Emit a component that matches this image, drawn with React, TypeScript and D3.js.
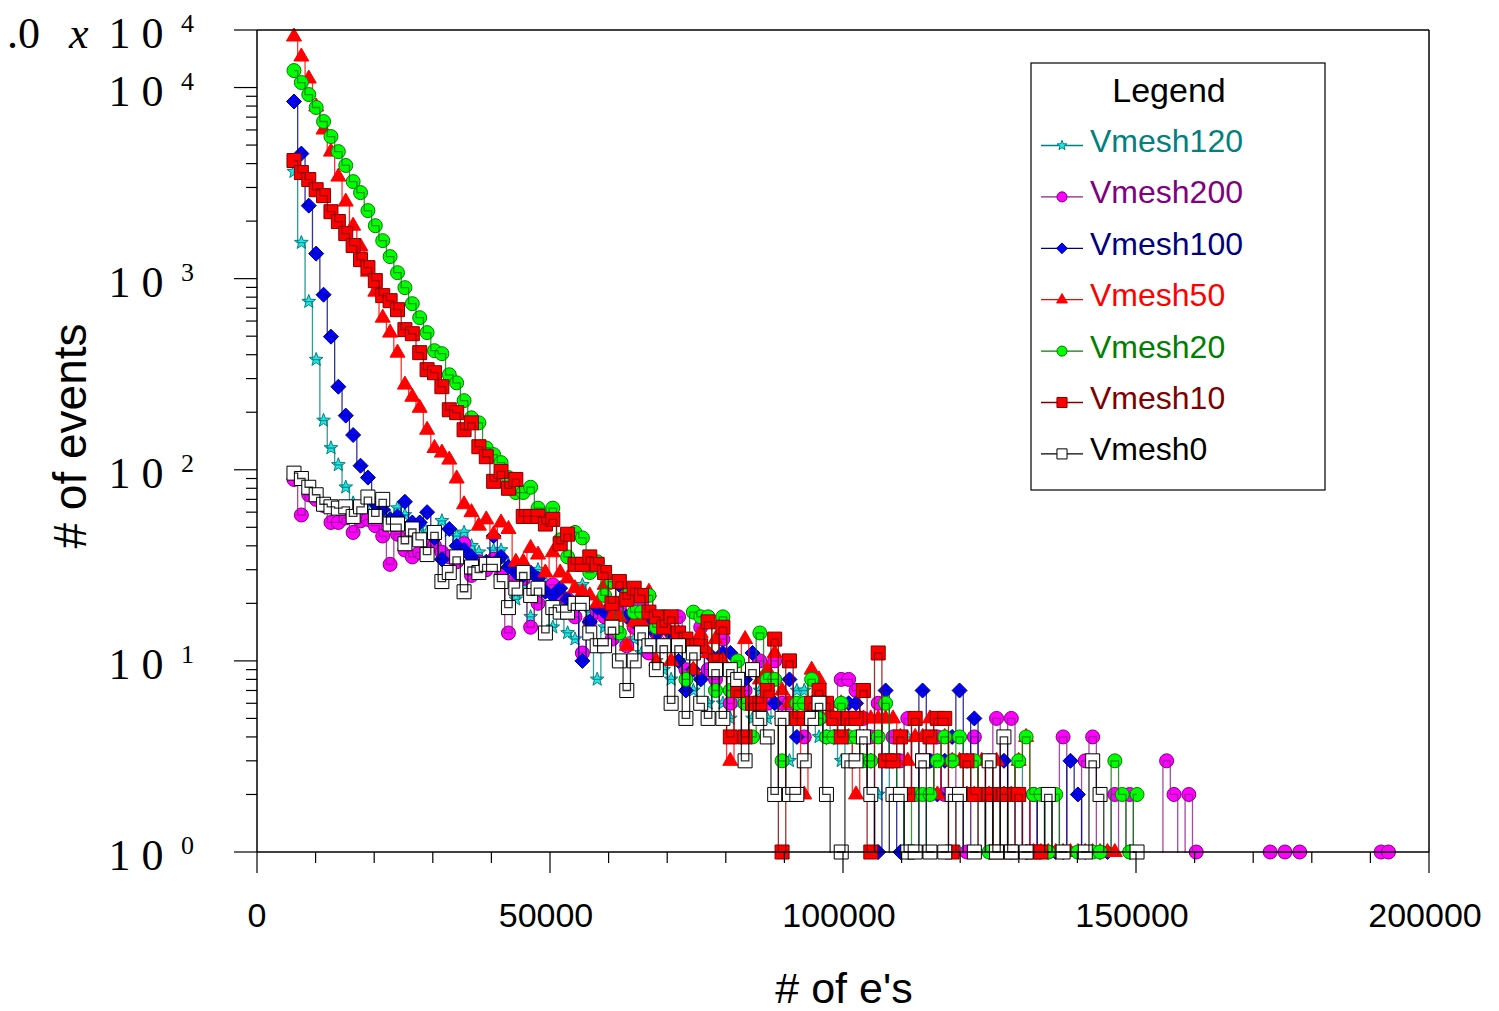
import React from 'react';
import * as d3 from 'd3';

// histogram bins: centre of first bin and bin width (# of e's)
const BIN_START = 6310;
const BIN_WIDTH = 1262;

const vmesh120: number[] = [
  3630, 1543, 758, 377, 181, 130, 106, 81, 67, 62,
  60, 58, 55, 57, 63, 58, 52, 50, 47, 44,
  54, 48, 45, 47, 40, 37, 33, 38, 38, 32,
  21, 25, 17, 30, 26, 15, 20, 14, 13, 25,
  18, 8, 15, 14, 13, 12, 13, 11, 12, 10,
  9, 8, 10, 8, 7, 8, 6, 7, 6, 5,
  6, 7, 5, 7, 5, 6, 5, 3, 7, 7,
  5, 4, 5, 4, 3, 4, 3, 3, 2, 2,
  3, 2, 2, 4, 2, 1, 2, 3, 2, 2,
  1, 2, 1, 2, 1, 3, 1, 2, 3, 1,
  1, 2, 1, 1,
];

const vmesh200: number[] = [
  89, 58, 74, 70, 65, 53, 53, 56, 47, 54,
  55, 51, 45, 32, 46, 38, 35, 37, 40, 40,
  37, 35, 33, 41, 28, 33, 30, 34, 28, 14,
  27, 27, 15, 20, 24, 25, 22, 21, 17, 11,
  16, 18, 17, 13, 19, 12, 15, 20, 11, 14,
  12, 14, 17, 9, 11, 15, 9, 8, 13, 6,
  8, 7, 9, 10, 6, 10, 6, 6, 5, 4,
  6, 5, 6, 5, 8, 8, 7, 5, 4, 6,
  3, 4, 3, 5, 2, 3, 3, 4, 2, 3,
  2, 1, 4, 2, 3, 5, 2, 5, 2, 1,
  2, 1, 2, 0, 4, 0, 0, 3, 4, 0,
  0, 2, 0, 2, 0, 0, 0, 0, 3, 2,
  0, 2, 1, 0, 0, 0, 0, 0, 0, 0,
  0, 0, 1, 0, 1, 0, 1, 0, 0, 0,
  0, 0, 0, 0, 0, 0, 0, 1, 1,
];

const vmesh100: number[] = [
  8450, 4510, 2410, 1352, 824, 497, 272, 192, 152, 105,
  91, 66, 62, 55, 57, 68, 53, 53, 60, 44,
  34, 49, 40, 38, 35, 31, 33, 45, 35, 31,
  29, 28, 29, 27, 23, 22, 24, 21, 20, 10,
  16, 19, 18, 15, 25, 17, 16, 14, 16, 14,
  12, 14, 10, 7, 9, 8, 11, 9, 11, 11,
  7, 8, 11, 6, 7, 6, 5, 8, 4, 5,
  6, 5, 4, 4, 5, 6, 6, 4, 3, 1,
  7, 3, 1, 2, 2, 7, 3, 2, 3, 4,
  7, 3, 5, 2, 1, 2, 3, 1, 2, 1,
  2, 0, 1, 1, 1, 3, 2, 1, 0, 1,
  1, 0, 0, 1,
];

const vmesh50: number[] = [
  18500, 14530, 11150, 7960, 6030, 4620, 3420, 2530, 1893, 1472,
  1088, 855, 625, 522, 410, 279, 241, 211, 162, 130,
  123, 113, 90, 66, 60, 51, 55, 46, 53, 49,
  33, 33, 39, 36, 29, 37, 29, 27, 24, 23,
  22, 20, 25, 17, 17, 12, 16, 16, 23, 10,
  12, 10, 14, 12, 9, 14, 11, 13, 10, 3,
  7, 13, 9, 8, 9, 11, 7, 6, 5, 2,
  9, 8, 5, 5, 6, 4, 2, 5, 5, 5,
  5, 5, 4, 3, 4, 4, 5, 2, 4, 3,
  3, 2, 2, 3, 2, 3, 2, 2, 3, 4,
  1, 1, 1, 1, 1, 1, 1, 1, 1, 1,
  1, 1,
];

const vmesh20: number[] = [
  12270, 10620, 9190, 7860, 6640, 5540, 4620, 3910, 3220, 2820,
  2270, 1893, 1581, 1304, 1075, 897, 740, 625, 522, 420,
  405, 314, 285, 230, 187, 176, 130, 120, 109, 91,
  76, 76, 81, 63, 58, 63, 43, 35, 47, 44,
  29, 33, 22, 26, 14, 22, 18, 18, 22, 15,
  17, 12, 13, 8, 18, 17, 17, 7, 17, 7,
  10, 6, 4, 14, 8, 8, 3, 5, 6, 6,
  8, 5, 4, 4, 6, 4, 4, 3, 3, 4,
  6, 3, 2, 1, 2, 2, 2, 3, 4, 3,
  4, 2, 3, 2, 1, 2, 1, 2, 3, 4,
  2, 2, 1, 2, 1, 0, 1, 0, 1, 1,
  0, 3, 2, 1, 2,
];

const vmesh10: number[] = [
  4150, 3590, 3300, 2920, 2720, 2240, 1990, 1720, 1490, 1257,
  1142, 977, 815, 767, 688, 541, 515, 410, 334, 322,
  272, 206, 199, 162, 176, 132, 117, 87, 98, 80,
  89, 57, 57, 57, 52, 55, 41, 46, 32, 32,
  35, 32, 29, 20, 26, 21, 24, 22, 18, 17,
  15, 17, 14, 13, 12, 12, 16, 10, 15, 4,
  7, 4, 6, 6, 7, 13, 1, 10, 5, 5,
  6, 7, 6, 5, 4, 5, 5, 7, 1, 11,
  3, 3, 4, 2, 5, 3, 4, 5, 5, 1,
  2, 3, 2, 0, 2, 1, 2, 1, 2, 0,
  1, 1,
];

const vmesh0: number[] = [
  96, 90, 81, 74, 66, 64, 63, 64, 57, 64,
  72, 57, 70, 52, 52, 41, 49, 43, 36, 47,
  26, 29, 35, 23, 31, 29, 32, 32, 26, 19,
  24, 29, 22, 24, 14, 19, 18, 18, 20, 20,
  14, 12, 12, 15, 10, 7, 10, 14, 12, 9,
  12, 6, 12, 5, 11, 6, 5, 9, 5, 9,
  8, 3, 9, 5, 4, 2, 5, 2, 2, 3,
  5, 6, 2, 0, 1, 3, 3, 4, 2, 0,
  0, 2, 2, 1, 1, 3, 1, 0, 1, 2,
  2, 0, 1, 0, 3, 1, 4, 1, 0, 1,
  0, 0, 2, 0, 1, 0, 0, 1, 3, 2,
  0, 0, 0, 0, 1,
];

const seriesNames = ['Vmesh120', 'Vmesh200', 'Vmesh100', 'Vmesh50', 'Vmesh20', 'Vmesh10', 'Vmesh0'];
const seriesValues = [vmesh120, vmesh200, vmesh100, vmesh50, vmesh20, vmesh10, vmesh0];

const xMajorTicks = [0, 50000, 100000, 150000, 200000];
const yDecades = [1, 10, 100, 1000, 10000];
const yTopTick = 20000;

type Shape = 'star' | 'circle' | 'diamond' | 'triangle' | 'square';
const STYLE: Record<string, { shape: Shape; fill: string; stroke: string; line: string; text: string }> = {
  Vmesh120: { shape: 'star', fill: '#22e6e6', stroke: '#008080', line: '#008080', text: '#008080' },
  Vmesh200: { shape: 'circle', fill: '#ff00ff', stroke: '#800080', line: '#8c1f8c', text: '#800080' },
  Vmesh100: { shape: 'diamond', fill: '#0000ff', stroke: '#000080', line: '#000080', text: '#000080' },
  Vmesh50: { shape: 'triangle', fill: '#ff0000', stroke: '#ff0000', line: '#ff0000', text: '#ff0000' },
  Vmesh20: { shape: 'circle', fill: '#00ff00', stroke: '#008000', line: '#008000', text: '#008000' },
  Vmesh10: { shape: 'square', fill: '#ff0000', stroke: '#800000', line: '#800000', text: '#800000' },
  Vmesh0: { shape: 'square', fill: '#ffffff', stroke: '#000000', line: '#000000', text: '#000000' },
};

function markerPath(shape: Shape, cx: number, cy: number, s: number): string {
  switch (shape) {
    case 'circle': {
      const r = 7 * s;
      return `M${cx - r},${cy}a${r},${r} 0 1,0 ${2 * r},0a${r},${r} 0 1,0 ${-2 * r},0Z`;
    }
    case 'square': {
      const h = 7 * s;
      return `M${cx - h},${cy - h}h${2 * h}v${2 * h}h${-2 * h}Z`;
    }
    case 'diamond': {
      const d = 7.5 * s;
      return `M${cx},${cy - d}L${cx + d},${cy}L${cx},${cy + d}L${cx - d},${cy}Z`;
    }
    case 'triangle': {
      return `M${cx},${cy - 8.5 * s}L${cx + 7.5 * s},${cy + 4.5 * s}L${cx - 7.5 * s},${cy + 4.5 * s}Z`;
    }
    case 'star': {
      const R = 7.2 * s, r = 3.0 * s;
      const pts: string[] = [];
      for (let k = 0; k < 10; k++) {
        const a = -Math.PI / 2 + (k * Math.PI) / 5;
        const rr = k % 2 === 0 ? R : r;
        pts.push(`${cx + rr * Math.cos(a)},${cy + rr * Math.sin(a)}`);
      }
      return 'M' + pts.join('L') + 'Z';
    }
  }
  return '';
}

const SANS = 'Arial, "Liberation Sans", Helvetica, sans-serif';
const SERIF = '"Times New Roman", "Liberation Serif", Times, serif';

export default function App() {
  const left = 257, right = 1429, top = 30, bottom = 852;
  const x = d3.scaleLinear().domain([0, 200000]).range([left, right]);
  const y = d3.scaleLog().domain([1, 20000]).range([bottom, top]);

  const line = d3.line<[number, number]>().x(d => d[0]).y(d => d[1]).curve(d3.curveStep);

  const xMinor = d3.range(10000, 200000, 10000).filter(v => v % 50000 !== 0);
  const yMinor: number[] = [];
  for (const dec of [1, 10, 100, 1000]) for (let m = 2; m <= 9; m++) yMinor.push(dec * m);

  const legendX = 1031, legendY = 63, legendW = 294, legendH = 427;

  return (
    <svg width={1499} height={1011} style={{ position: 'absolute', left: 0, top: 0, background: '#fff' }}>
      <defs>
        <clipPath id="plotclip">
          <rect x={left} y={top} width={right - left} height={bottom - top + 1} />
        </clipPath>
      </defs>
      <rect x={0} y={0} width={1499} height={1011} fill="#fff" />

      {/* series */}
      {seriesNames.map((name, si) => {
        const st = STYLE[name];
        const vals = seriesValues[si];
        const pts: [number, number][] = vals.map((v, i) => [x(BIN_START + BIN_WIDTH * i), v > 0 ? y(v) : y(0.2)]);
        return (
          <g key={name}>
            {vals.map((v, i) =>
              v > 0 ? (
                <path key={i} d={markerPath(st.shape, pts[i][0], pts[i][1], 1)} fill={st.fill} stroke={st.stroke} strokeWidth={1} />
              ) : null
            )}
            <path d={line(pts) || ''} fill="none" stroke={st.line} strokeWidth={1.3} strokeOpacity={0.8} clipPath="url(#plotclip)" />
          </g>
        );
      })}

      {/* frame */}
      <g stroke="#000" strokeWidth={1.5} fill="none">
        <line x1={left} y1={top} x2={right} y2={top} />
        <line x1={right} y1={top} x2={right} y2={bottom} />
        <line x1={left} y1={bottom} x2={right} y2={bottom} />
        <line x1={left} y1={top} x2={left} y2={bottom} />
      </g>

      {/* x ticks */}
      <g stroke="#000" strokeWidth={1.2}>
        {xMajorTicks.map(v => <line key={'xM' + v} x1={x(v)} x2={x(v)} y1={bottom} y2={bottom + 21} />)}
        {xMinor.map(v => <line key={'xm' + v} x1={x(v)} x2={x(v)} y1={bottom} y2={bottom + 11} />)}
      </g>
      {xMajorTicks.map(v => (
        <text key={'xl' + v} x={x(v) - (v === 0 ? 0 : 4)} y={927} textAnchor="middle" fontFamily={SANS} fontSize={34} fill="#000">
          {String(v)}
        </text>
      ))}

      {/* y ticks */}
      <g stroke="#000" strokeWidth={1.2}>
        {yDecades.concat([yTopTick]).map(v => <line key={'yM' + v} x1={left - 23} x2={left} y1={y(v)} y2={y(v)} />)}
        {yMinor.map(v => <line key={'ym' + v} x1={left - 11} x2={left} y1={y(v)} y2={y(v)} />)}
      </g>
      {yDecades.map((v, k) => (
        <g key={'yl' + v} fontFamily={SERIF} fill="#000">
          <text x={163.5} y={y(v) + 18} textAnchor="end" fontSize={44}>1 0</text>
          <text x={181} y={y(v) + 2} fontSize={26}>{String(k)}</text>
        </g>
      ))}
      <g fontFamily={SERIF} fill="#000">
        <text x={-25} y={y(yTopTick) + 18} fontSize={44}>
          <tspan>2</tspan>
          <tspan dx={10}>.</tspan>
          <tspan>0</tspan>
        </text>
        <text x={69} y={y(yTopTick) + 18} fontSize={44} fontStyle="italic">x</text>
        <text x={163.5} y={y(yTopTick) + 18} textAnchor="end" fontSize={44}>1 0</text>
        <text x={181} y={y(yTopTick) + 2} fontSize={26}>4</text>
      </g>

      {/* axis titles */}
      <text x={844} y={1003} textAnchor="middle" fontFamily={SANS} fontSize={43} fill="#000"># of e's</text>
      <text transform="translate(86,436) rotate(-90)" textAnchor="middle" fontFamily={SANS} fontSize={46} fill="#000"># of events</text>

      {/* legend */}
      <rect x={legendX} y={legendY} width={legendW} height={legendH} fill="#fff" stroke="#000" strokeWidth={1.2} />
      <text x={1169} y={102} textAnchor="middle" fontFamily={SANS} fontSize={34} fill="#000">Legend</text>
      {seriesNames.map((name, k) => {
        const st = STYLE[name];
        const base = 152 + k * 51.4;
        const ly = base - 6.5;
        return (
          <g key={'lg' + name}>
            <line x1={1041} x2={1083} y1={ly} y2={ly} stroke={st.line} strokeWidth={1.3} />
            <path d={markerPath(st.shape, 1062, ly, 0.72)} fill={st.fill} stroke={st.stroke} strokeWidth={1} />
            <text x={1090} y={base} fontFamily={SANS} fontSize={32} fill={st.text}>{name}</text>
          </g>
        );
      })}
    </svg>
  );
}
